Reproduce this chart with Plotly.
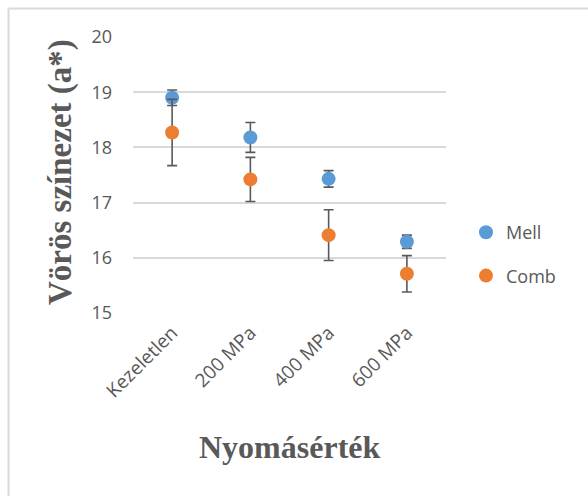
import plotly.graph_objects as go

categories = ["Kezeletlen", "200 MPa", "400 MPa", "600 MPa"]
mell_values = [18.90, 18.18, 17.43, 16.29]
mell_err = [0.14, 0.27, 0.15, 0.12]
comb_values = [18.27, 17.42, 16.41, 15.71]
comb_err = [0.60, 0.40, 0.46, 0.33]
y_ticks = [15, 16, 17, 18, 19, 20]

GRAY = "#595959"
W, H = 588, 496
L, R, T, B = 133, 446, 37, 313

def px_x(p):
    return (p - L) / (R - L)

def px_y(p):
    return (B - p) / (B - T)

fig = go.Figure()
fig.add_trace(go.Scatter(
    x=categories, y=mell_values, mode="markers", name="Mell",
    marker=dict(color="#5B9BD5", size=14),
    error_y=dict(type="data", array=mell_err, color=GRAY, thickness=1.6, width=5),
    legendgroup="a",
))
fig.add_trace(go.Scatter(
    x=categories, y=comb_values, mode="markers", name="Comb",
    marker=dict(color="#ED7D31", size=14),
    error_y=dict(type="data", array=comb_err, color=GRAY, thickness=1.6, width=5),
    legendgroup="b",
))

border = dict(color="#d9d9d9", width=2)
fig.update_layout(
    width=W, height=H,
    margin=dict(l=L, r=W - R, t=T, b=H - B),
    paper_bgcolor="white", plot_bgcolor="white",
    font=dict(family="Open Sans", size=18, color=GRAY),
    showlegend=True,
    legend=dict(x=px_x(466), y=px_y(214), xanchor="left", yanchor="top",
                traceorder="grouped", tracegroupgap=17,
                font=dict(family="Open Sans", size=18, color=GRAY),
                itemwidth=30, bgcolor="rgba(0,0,0,0)"),
    xaxis=dict(range=[-0.5, 3.5], showgrid=False, zeroline=False, showline=False,
               tickangle=-45, ticks="", ticklabelstandoff=4,
               tickfont=dict(family="Open Sans", size=19, color=GRAY)),
    yaxis=dict(range=[15, 20], tickvals=y_ticks, showgrid=True, gridcolor="#d9d9d9",
               gridwidth=1.5, zeroline=False, showline=False, ticks="",
               ticklabelstandoff=20),
    shapes=[
        dict(type="line", xref="paper", yref="paper",
             x0=px_x(8.5), x1=px_x(8.5), y0=px_y(520), y1=px_y(8.5),
             line=border, layer="below"),
        dict(type="line", xref="paper", yref="paper",
             x0=px_x(8.5), x1=px_x(600), y0=px_y(8.5), y1=px_y(8.5),
             line=border, layer="below"),
    ],
    annotations=[
        dict(text="<b>Vörös színezet (a*)</b>", xref="paper", yref="paper",
             x=px_x(60), y=px_y(172), textangle=-90, showarrow=False,
             font=dict(family="Liberation Serif", size=33, color=GRAY),
             xanchor="center", yanchor="middle"),
        dict(text="<b>Nyomásérték</b>", xref="paper", yref="paper",
             x=px_x(289), y=px_y(447), showarrow=False,
             font=dict(family="Liberation Serif", size=32, color=GRAY),
             xanchor="center", yanchor="middle"),
    ],
)

fig.write_html(
    "out.html",
    config={"displayModeBar": False},
    post_script="document.body.style.margin='0';document.body.style.overflow='hidden';",
)
